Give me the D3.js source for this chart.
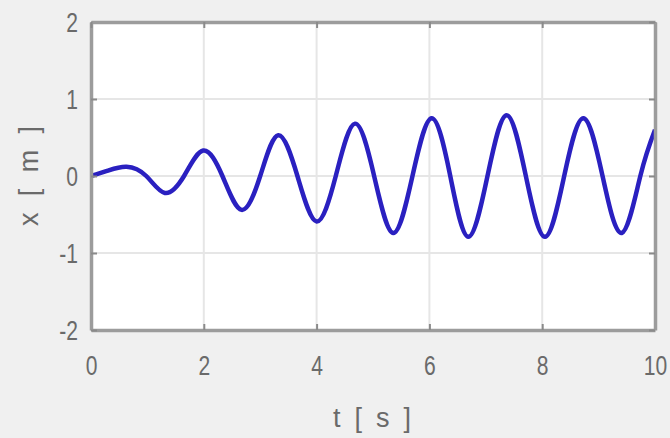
<!DOCTYPE html>
<html>
<head>
<meta charset="utf-8">
<script src="https://cdn.jsdelivr.net/npm/d3@7"></script>
<style>
  body { margin: 0; background: #f0f0f0; }
  svg { display: block; }
</style>
</head>
<body>
<svg id="chart" width="670" height="438"></svg>
<script>
// extrema and zero crossings of x(t)
var tVals = [0, 0.3, 0.63, 0.98, 1.31, 1.65, 1.99, 2.33, 2.67, 3.0, 3.32, 3.66, 4.0, 4.34,
             4.68, 5.02, 5.36, 5.70, 6.04, 6.37, 6.69, 7.03, 7.37, 7.71, 8.05, 8.39,
             8.73, 9.07, 9.41, 9.74, 10];
var xVals = [0, 0.07, 0.12, 0, -0.22, 0, 0.33, 0, -0.44, 0, 0.53, 0, -0.59, 0,
             0.68, 0, -0.74, 0, 0.75, 0, -0.79, 0, 0.79, 0, -0.79, 0,
             0.75, 0, -0.74, 0, 0.6];
var xTicks = [0, 2, 4, 6, 8, 10];
var yTicks = [-2, -1, 0, 1, 2];

var svg = d3.select("#chart");
var pLeft = 91, pRight = 655, pTop = 22, pBottom = 330;
var font = "'Liberation Sans', Arial, sans-serif";
var textCol = "#6a6a6a";
var squeeze = 0.78;   // the labels in the picture are tall and narrow

var x = d3.scaleLinear().domain([0, 10]).range([pLeft, pRight]);
var y = d3.scaleLinear().domain([-2, 2]).range([pBottom, pTop]);

svg.append("rect")
	.attr("x", pLeft).attr("y", pTop)
	.attr("width", pRight - pLeft).attr("height", pBottom - pTop)
	.attr("fill", "#ffffff");

// grid
svg.append("g").selectAll("line").data(xTicks).enter().append("line")
	.attr("x1", function (d) { return x(d); }).attr("x2", function (d) { return x(d); })
	.attr("y1", pTop).attr("y2", pBottom)
	.attr("stroke", "#e6e6e6").attr("stroke-width", 2);
svg.append("g").selectAll("line").data(yTicks).enter().append("line")
	.attr("x1", pLeft).attr("x2", pRight)
	.attr("y1", function (d) { return y(d); }).attr("y2", function (d) { return y(d); })
	.attr("stroke", "#e6e6e6").attr("stroke-width", 2);

// data line
var pts = tVals.map(function (t, i) { return [t, xVals[i]]; });
var line = d3.line()
	.x(function (d) { return x(d[0]); })
	.y(function (d) { return y(d[1]); })
	.curve(d3.curveNatural);
svg.append("path")
	.datum(pts)
	.attr("d", line)
	.attr("fill", "none")
	.attr("stroke", "#2a20c0")
	.attr("stroke-width", 4.5)
	.attr("stroke-linejoin", "round");

// axes (MATLAB style: inward ticks, box all round)
var tickFmt = function (d) { return String(d); };
var ax = svg.append("g").attr("transform", "translate(0," + pBottom + ")")
	.call(d3.axisBottom(x).tickValues(xTicks).tickSizeInner(-6).tickSizeOuter(0).tickFormat(tickFmt));
var ay = svg.append("g").attr("transform", "translate(" + pLeft + ",0)")
	.call(d3.axisLeft(y).tickValues(yTicks).tickSizeInner(-6).tickSizeOuter(0).tickFormat(tickFmt));
var axTop = svg.append("g").attr("transform", "translate(0," + pTop + ")")
	.call(d3.axisTop(x).tickValues(xTicks).tickSizeInner(-6).tickSizeOuter(0).tickFormat(""));
var ayRight = svg.append("g").attr("transform", "translate(" + pRight + ",0)")
	.call(d3.axisRight(y).tickValues(yTicks).tickSizeInner(-6).tickSizeOuter(0).tickFormat(""));

[ax, ay, axTop, ayRight].forEach(function (g) {
	g.select(".domain").attr("stroke", "#9c9c9c").attr("stroke-width", 3.5);
	g.selectAll(".tick line").attr("stroke", "#8a8a8a").attr("stroke-width", 2);
	g.selectAll(".tick text")
		.attr("fill", textCol)
		.style("font-family", font)
		.style("font-size", "27px");
});
ax.selectAll(".tick text")
	.attr("x", 0).attr("y", 36).attr("dy", "0.35em")
	.attr("transform", "scale(" + squeeze + ",1)");
ay.selectAll(".tick text")
	.attr("x", -13 / squeeze).attr("dy", "0.35em")
	.attr("transform", "scale(" + squeeze + ",1)");

svg.append("text")
	.attr("x", 372).attr("y", 418)
	.attr("dy", "0.35em")
	.attr("text-anchor", "middle")
	.attr("fill", textCol)
	.attr("textLength", 78)
	.attr("lengthAdjust", "spacing")
	.style("font-family", font)
	.style("font-size", "27px")
	.text("t [ s ]");

svg.append("text")
	.attr("transform", "translate(29," + y(0) + ") rotate(-90)")
	.attr("dy", "0.35em")
	.attr("text-anchor", "middle")
	.attr("fill", textCol)
	.attr("textLength", 100)
	.attr("lengthAdjust", "spacing")
	.style("font-family", font)
	.style("font-size", "27px")
	.text("x [ m ]");
</script>
</body>
</html>
